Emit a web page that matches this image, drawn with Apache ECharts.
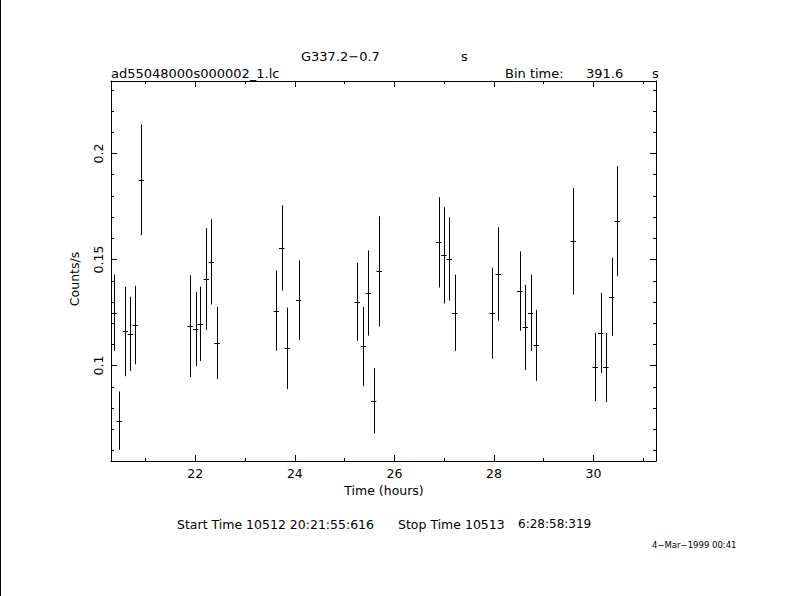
<!DOCTYPE html>
<html><head><meta charset="utf-8">
<script src="https://cdn.jsdelivr.net/npm/echarts@6/dist/echarts.min.js"></script>
<style>html,body{margin:0;padding:0;background:#fff}#c{width:789px;height:596px}</style>
</head><body><div id="c"></div>
<script>
// ---- data ----
const timeHours = [20.367, 20.473, 20.594, 20.694, 20.795, 20.915,
  21.894, 22.008, 22.100, 22.221, 22.321, 22.436,
  23.627, 23.736, 23.848, 24.077,
  25.254, 25.375, 25.475, 25.584, 25.696,
  26.890, 26.996, 27.103, 27.211,
  27.966, 28.087, 28.517, 28.629, 28.738, 28.850,
  29.593, 30.035, 30.144, 30.250, 30.365, 30.477];
const countRate = [0.1249, 0.0740, 0.1161, 0.1150, 0.1191, 0.1876,
  0.1186, 0.1173, 0.1197, 0.1408, 0.1489, 0.1107,
  0.1259, 0.1555, 0.1081, 0.1308,
  0.1301, 0.1090, 0.1342, 0.0834, 0.1444,
  0.1581, 0.1520, 0.1503, 0.1249,
  0.1247, 0.1432, 0.1351, 0.1180, 0.1249, 0.1095,
  0.1586, 0.0993, 0.1154, 0.0991, 0.1325, 0.1681];
const rateError = [0.0180, 0.0138, 0.0211, 0.0175, 0.0185, 0.0261,
  0.0240, 0.0175, 0.0175, 0.0240, 0.0201, 0.0170,
  0.0189, 0.0201, 0.0192, 0.0188,
  0.0184, 0.0187, 0.0201, 0.0154, 0.0260,
  0.0213, 0.0227, 0.0196, 0.0180,
  0.0215, 0.0220, 0.0187, 0.0201, 0.0180, 0.0168,
  0.0251, 0.0161, 0.0189, 0.0163, 0.0184, 0.0260];
const binTime = 391.6; // seconds
const xMajorTicks = [22, 24, 26, 28, 30];
const xMinorTicks = [21, 23, 25, 27, 29, 31];
const yMajorTicks = [0.1, 0.15, 0.2];
const yMinorTicks = [0.06, 0.07, 0.08, 0.09, 0.11, 0.12, 0.13, 0.14, 0.16, 0.17, 0.18, 0.19, 0.21, 0.22, 0.23];
const xRange = [20.306, 31.256];
const yRange = [0.055, 0.2342];

const FONT = 'DejaVu Sans';
const halfBin = binTime / 3600 / 2;
const data = timeHours.map((t, i) => [t, countRate[i], rateError[i]]);

function xAxisDef(pos, ticks, len, showLine, showLabel) {
  return {
    type: 'value', position: pos, min: xRange[0], max: xRange[1],
    axisLine: { show: showLine, onZero: false, lineStyle: { color: '#000', width: 1 } },
    axisTick: { show: true, inside: true, length: len, customValues: ticks, lineStyle: { color: '#000', width: 1 } },
    axisLabel: { show: showLabel, customValues: xMajorTicks, color: '#000', fontFamily: FONT, fontSize: 12.5, margin: 6 },
    splitLine: { show: false }
  };
}
function yAxisDef(pos, ticks, len, showLine, showLabel) {
  return {
    type: 'value', position: pos, min: yRange[0], max: yRange[1],
    axisLine: { show: showLine, onZero: false, lineStyle: { color: '#000', width: 1 } },
    axisTick: { show: true, inside: true, length: len, customValues: ticks, lineStyle: { color: '#000', width: 1 } },
    axisLabel: { show: showLabel, customValues: yMajorTicks, rotate: 90, color: '#000', fontFamily: FONT, fontSize: 12.5, margin: 6,
      formatter: v => String(+v.toFixed(3)) },
    splitLine: { show: false }
  };
}

const chart = echarts.init(document.getElementById('c'), null, { renderer: 'svg', width: 789, height: 596 });
chart.setOption({
  backgroundColor: '#fff',
  animation: false,
  grid: { left: 111, top: 81, width: 545, height: 380, containLabel: false },
  xAxis: [
    xAxisDef('bottom', xMajorTicks, 6, true, true),
    xAxisDef('bottom', xMinorTicks, 3, false, false),
    xAxisDef('top', xMajorTicks, 6, true, false),
    xAxisDef('top', xMinorTicks, 3, false, false)
  ],
  yAxis: [
    yAxisDef('left', yMajorTicks, 6, true, true),
    yAxisDef('left', yMinorTicks, 3, false, false),
    yAxisDef('right', yMajorTicks, 6, true, false),
    yAxisDef('right', yMinorTicks, 3, false, false)
  ],
  series: [{
    type: 'custom', xAxisIndex: 0, yAxisIndex: 0, data: data,
    renderItem: function (params, api) {
      const x = api.value(0), y = api.value(1), e = api.value(2);
      const top = api.coord([x, y + e]);
      const bot = api.coord([x, y - e]);
      const l = api.coord([x - halfBin, y]);
      const r = api.coord([x + halfBin, y]);
      const cx = Math.round(top[0]) + 0.5;
      const cy = Math.round(l[1]) + 0.5;
      return { type: 'group', children: [
        { type: 'line', shape: { x1: cx, y1: top[1], x2: cx, y2: bot[1] }, style: { stroke: '#000', lineWidth: 1 } },
        { type: 'line', shape: { x1: l[0], y1: cy, x2: r[0], y2: cy }, style: { stroke: '#000', lineWidth: 1 } }
      ]};
    }
  }],
  graphic: [
    { type: 'rect', left: 0, top: 0, shape: { width: 1, height: 596 }, style: { fill: '#000' } },
    { type: 'text', x: 301, y: 56, style: { text: 'G337.2\u22120.7', font: '13px "DejaVu Sans"', fill: '#000', textVerticalAlign: 'middle' } },
    { type: 'text', x: 461, y: 56, style: { text: 's', font: '13px "DejaVu Sans"', fill: '#000', textVerticalAlign: 'middle' } },
    { type: 'text', x: 111, y: 73, style: { text: 'ad55048000s000002_1.lc', font: '13px "DejaVu Sans"', fill: '#000', textVerticalAlign: 'middle' } },
    { type: 'text', x: 505, y: 73, style: { text: 'Bin time:', font: '13px "DejaVu Sans"', fill: '#000', textVerticalAlign: 'middle' } },
    { type: 'text', x: 586, y: 73, style: { text: String(binTime), font: '13px "DejaVu Sans"', fill: '#000', textVerticalAlign: 'middle' } },
    { type: 'text', x: 652, y: 73, style: { text: 's', font: '13px "DejaVu Sans"', fill: '#000', textVerticalAlign: 'middle' } },
    { type: 'text', x: 384, y: 490, style: { text: 'Time (hours)', font: '12.5px "DejaVu Sans"', fill: '#000', textAlign: 'center', textVerticalAlign: 'middle' } },
    { type: 'text', x: 74, y: 279, rotation: Math.PI / 2, style: { text: 'Counts/s', font: '12.5px "DejaVu Sans"', fill: '#000', textAlign: 'center', textVerticalAlign: 'middle' } },
    { type: 'text', x: 177, y: 524, style: { text: 'Start Time 10512 20:21:55:616', font: '12.5px "DejaVu Sans"', fill: '#000', textVerticalAlign: 'middle' } },
    { type: 'text', x: 398, y: 524, style: { text: 'Stop Time 10513', font: '12.5px "DejaVu Sans"', fill: '#000', textVerticalAlign: 'middle' } },
    { type: 'text', x: 518, y: 524, style: { text: '6:28:58:319', font: '12px "DejaVu Sans"', fill: '#000', textVerticalAlign: 'middle' } },
    { type: 'text', x: 652, y: 545, style: { text: '4\u2212Mar\u22121999 00:41', font: '8.5px "DejaVu Sans"', fill: '#000', textVerticalAlign: 'middle' } }
  ]
});
</script></body></html>
